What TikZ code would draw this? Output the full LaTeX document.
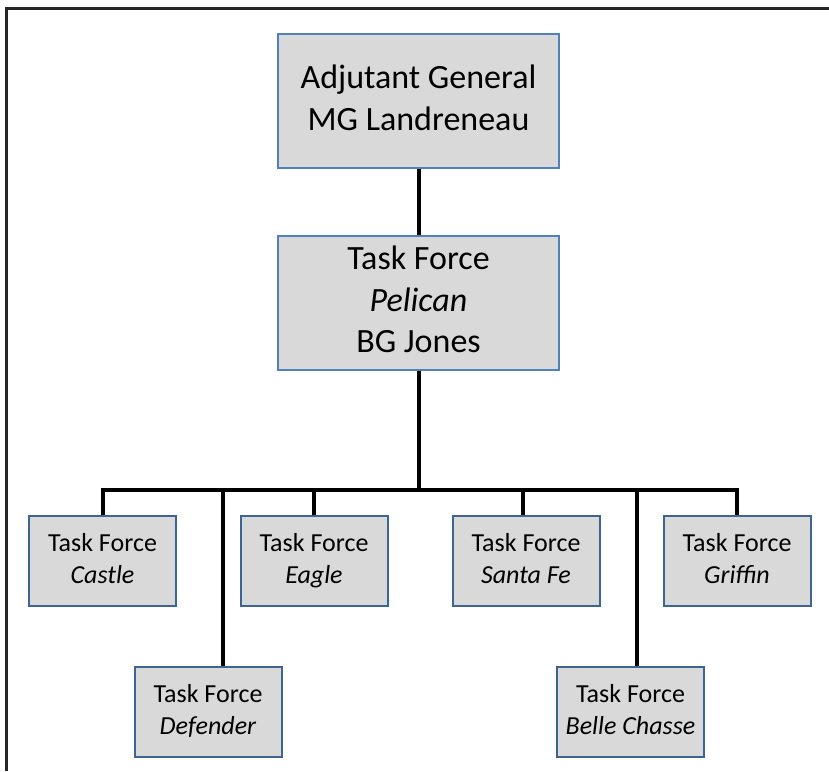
\documentclass[tikz,border=0pt]{standalone}
\usepackage{fontspec}
\setmainfont{Carlito}
\definecolor{boxfill}{HTML}{D9D9D9}
\definecolor{topblue}{HTML}{4F81BD}
\definecolor{lowblue}{HTML}{3C6494}
\definecolor{frame}{HTML}{262626}
\newcommand{\tflabel}[1]{Task Force\strut\\\textit{#1}\strut}
\tikzset{
  bigbox/.style={draw=topblue,fill=boxfill,line width=2pt,inner sep=0pt,
    minimum width=281,minimum height=134,align=center,
    font=\fontsize{34}{41.5}\selectfont},
  tfbox/.style={draw=lowblue,fill=boxfill,line width=2pt,inner sep=0pt,
    minimum width=147,minimum height=90,align=center,
    font=\fontsize{26}{32}\selectfont},
  link/.style={line width=4pt,black}
}
\begin{document}
\begin{tikzpicture}[x=1pt,y=-1pt]
	\useasboundingbox (0,0) rectangle (829,771);
	%outer frame
	\draw[frame,line width=3pt] (6,771) -- (6,8) -- (829,8);

	%command boxes
	\node[bigbox] (adjgen) at (418.5,101) {Adjutant General\strut\\MG Landreneau\strut};
	\node[bigbox] (tfpelican) at (418.5,303) {Task Force\strut\\\textit{Pelican}\strut\\BG Jones\strut};

	%task forces, upper row
	\node[tfbox] (castle) at (102.5,561) {\tflabel{Castle}};
	\node[tfbox] (eagle) at (314,561) {\tflabel{Eagle}};
	\node[tfbox] (santafe) at (526,561) {\tflabel{Santa Fe}};
	\node[tfbox] (griffin) at (737,561) {\tflabel{Griffin}};
	%task forces, lower row
	\node[tfbox] (defender) at (208,712) {\tflabel{Defender}};
	\node[tfbox] (bellechasse) at (630.5,712) {\tflabel{Belle Chasse}};

	%connectors
	\coordinate (bus) at (0,490);
	\draw[link] (adjgen) -- (tfpelican);
	\draw[link] (tfpelican.south) -- (tfpelican.south |- bus);
	\draw[link] (castle.north) -- (castle.north |- bus) -- (griffin.north |- bus) -- (griffin.north); %bus
	\draw[link] (eagle.north) -- (eagle.north |- bus);
	\draw[link] ([xshift=-3]santafe.north) -- ([xshift=-3]santafe.north |- bus);
	\draw[link] ([xshift=15]defender.north) -- ([xshift=15]defender.north |- bus);
	\draw[link] ([xshift=6.5]bellechasse.north) -- ([xshift=6.5]bellechasse.north |- bus);
\end{tikzpicture}
\end{document}
